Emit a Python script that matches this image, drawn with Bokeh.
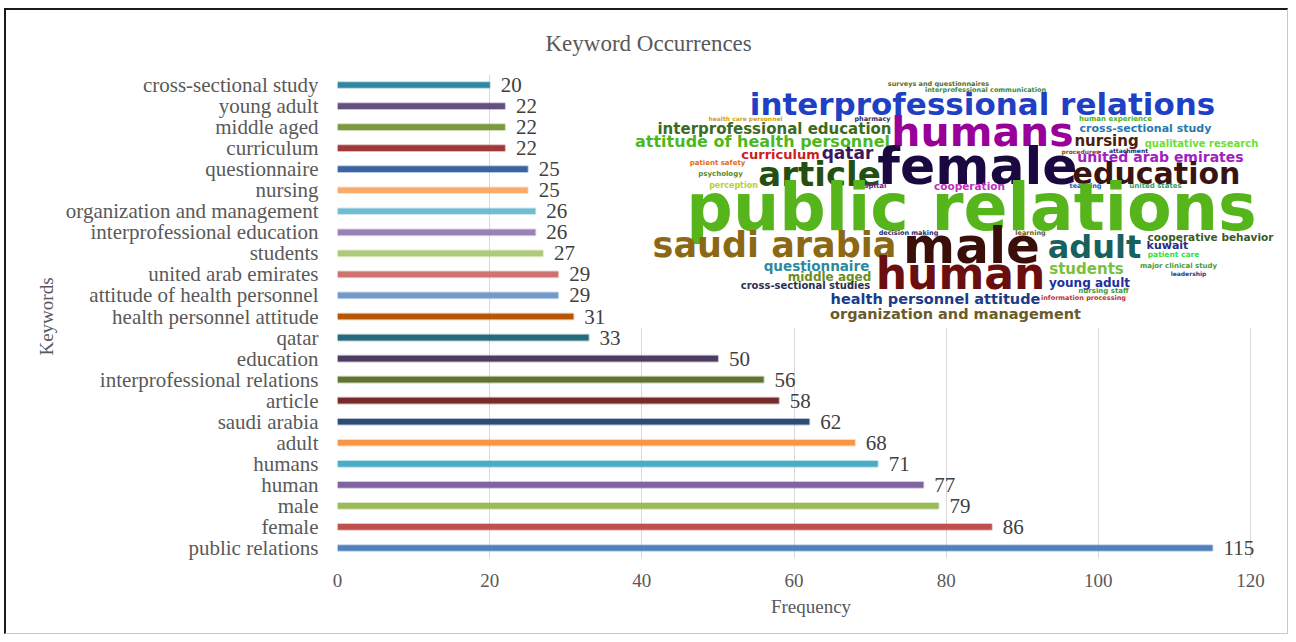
from bokeh.plotting import figure
from bokeh.models import FactorRange, Range1d, FixedTicker, ColumnDataSource
from bokeh.core.properties import value
from bokeh.embed import file_html
from bokeh.resources import INLINE

# ---------------- data (bottom bar first) ----------------
keywords = [
    "public relations", "female", "male", "human", "humans", "adult",
    "saudi arabia", "article", "interprofessional relations", "education",
    "qatar", "health personnel attitude", "attitude of health personnel",
    "united arab emirates", "students", "interprofessional education",
    "organization and management", "nursing", "questionnaire", "curriculum",
    "middle aged", "young adult", "cross-sectional study",
]
frequency = [115, 86, 79, 77, 71, 68, 62, 58, 56, 50, 33, 31, 29, 29, 27, 26, 26,
             25, 25, 22, 22, 22, 20]
bar_colors = [
    "#4F81BD", "#C0504D", "#9BBB59", "#8064A2", "#4BACC6", "#F79646",
    "#2C4D75", "#772C2A", "#5F7530", "#4D3B62", "#276A7C", "#B65708",
    "#729ACA", "#CD7371", "#AFC97A", "#9983B5", "#6FBDD1", "#F9AB6B",
    "#3B64A0", "#A03A38", "#7A9A3D", "#634F80", "#2E87A0",
]
x_ticks = [0, 20, 40, 60, 80, 100, 120]
title_text = "Keyword Occurrences"
x_label = "Frequency"
y_label = "Keywords"

# word-cloud inset (an image in the original): words and their colours
wc_words = [
    "surveys and questionnaires", "interprofessional communication",
    "interprofessional relations", "health care personnel", "pharmacy",
    "human experience", "humans", "interprofessional education",
    "cross-sectional study", "attitude of health personnel", "nursing",
    "qualitative research", "curriculum", "qatar", "united arab emirates",
    "procedures", "attachment", "patient safety", "female", "article",
    "education", "psychology", "perception", "hospital", "cooperation",
    "teaching", "united states", "public relations", "decision making",
    "learning", "cooperative behavior", "saudi arabia", "male", "adult",
    "kuwait", "patient care", "major clinical study", "questionnaire",
    "human", "students", "leadership", "middle aged", "young adult",
    "cross-sectional studies", "nursing staff", "health personnel attitude",
    "information processing", "organization and management",
]
wc_colors = [
    "#5A6B2A", "#3A8A3A", "#1F3FC4", "#D4A020", "#2A2A6A",
    "#4CB020", "#990099", "#3B6B22", "#2878B0", "#4DB81E", "#4A2010",
    "#6CE030", "#CC2020", "#3A1860", "#A020C0",
    "#8A4A20", "#2A2A6A", "#E06A20", "#1A0840", "#234F12",
    "#3A1410", "#5A8A2A", "#B8D030", "#6A2A8A", "#C030C0",
    "#2A50C0", "#3A9A6A", "#55B51A", "#2A2A6A",
    "#6A5A2A", "#3A5A2A", "#8B6914", "#3A0F0A", "#17615E",
    "#2A2A8A", "#30E040", "#4A9A3A", "#2A8AA0",
    "#6B0E0E", "#7AC040", "#2A3A8A", "#6B8E23", "#2030A0",
    "#2A3050", "#3A9A3A", "#1A3A8A",
    "#C03030", "#6B5A2A",
]
# layout of the inset: (page x centre, page y centre, font px) per word
wc_layout = [
    (938, 83, 6.5), (985, 89, 6.5),
    (982, 103, 31), (745, 118, 6), (872, 118, 6.5),
    (1115, 118, 7), (982, 131, 41), (774, 128, 15),
    (1145, 128, 11), (762, 141, 16), (1106, 140, 15),
    (1201, 143, 10), (780, 154, 13), (847, 153, 17), (1160, 156, 14),
    (1080, 151, 6), (1128, 150, 6), (717, 162, 7), (977, 165, 52), (819, 173, 34),
    (1156, 173, 30), (720, 174, 7), (733, 185, 8), (870, 185, 7), (969, 185, 10.5),
    (1085, 185, 6.5), (1155, 185, 7), (971, 207, 65), (908, 232, 6.5),
    (1030, 232, 6.5), (1210, 236, 10.5), (774, 244, 35), (971, 245, 50), (1094, 246, 32),
    (1167, 245, 11), (1173, 254, 7.5), (1178, 265, 7), (816, 265, 13.5),
    (960, 273, 44), (1086, 268, 15), (1188, 273, 6), (829, 276, 12), (1089, 282, 12),
    (805, 285, 10), (1103, 290, 7), (935, 298, 14.5),
    (1083, 297, 6.5), (955, 313, 14.5),
]

# ---------------- geometry (page px) ----------------
ORIGIN_X, ORIGIN_Y = 6, 10          # figure canvas origin on the page
CONTENT_W, CONTENT_H = 1284, 626
X0_PX, X120_PX = 337.0, 1250.0       # page x of value 0 and of the last tick
FRAME_T, FRAME_B = 74.0, 558.0
PX_PER_UNIT = (X120_PX - X0_PX) / (x_ticks[-1] - x_ticks[0])
FRAME_R = 1284.0
n_cat = len(keywords)


def px_to_x(px):
    return (px - X0_PX) / PX_PER_UNIT


def py_to_y(py):
    return (FRAME_B - py) / ((FRAME_B - FRAME_T) / n_cat)


SERIF = "Liberation Serif"
GREY = "#595959"

p = figure(
    width=CONTENT_W, height=CONTENT_H,
    y_range=FactorRange(factors=keywords),
    x_range=Range1d(x_ticks[0], px_to_x(FRAME_R)),
    output_backend="svg", toolbar_location=None,
    min_border_left=int(X0_PX - ORIGIN_X),
    min_border_right=int(ORIGIN_X + CONTENT_W - FRAME_R),
    min_border_top=int(FRAME_T - ORIGIN_Y),
    min_border_bottom=int(ORIGIN_Y + CONTENT_H - FRAME_B),
    styles={
        "margin-left": "4px", "margin-top": "8px",
        "border-top": "2px solid #1a1a1a", "border-left": "2px solid #1a1a1a",
        "border-right": "1px solid #c8c8c8", "border-bottom": "1px solid #c8c8c8",
    },
)
p.outline_line_color = None
p.background_fill_color = "white"
p.border_fill_color = "white"

# title, centred over the whole chart (left-aligned with an offset from the frame)
p.title.text = title_text
p.title.align = "left"
p.title.vertical_align = "top"
p.title.offset = 208
p.title.standoff = 34
p.title.text_font = SERIF
p.title.text_font_size = "23px"
p.title.text_font_style = "normal"
p.title.text_color = GREY

# bars
src = ColumnDataSource(dict(k=keywords, v=frequency, c=bar_colors,
                            t=[str(v) for v in frequency]))
p.hbar(y="k", right="v", left=0, height=0.27, fill_color="c", line_color="c",
       line_alpha=0.35, line_width=2, source=src)
p.text(x="v", y="k", text="t", source=src, x_offset=11, text_baseline="middle",
       text_font=value(SERIF), text_font_size="21px", text_color="#404040")

# word-cloud inset: white panel then words
p.quad(left=px_to_x(627), right=px_to_x(1290), bottom=py_to_y(327), top=py_to_y(66),
       fill_color="white", line_color=None)
wc_src = ColumnDataSource(dict(
    x=[px_to_x(l[0]) for l in wc_layout],
    y=[py_to_y(l[1]) for l in wc_layout],
    s=["%gpx" % l[2] for l in wc_layout],
    w=wc_words, c=wc_colors,
))
p.text(x="x", y="y", text="w", source=wc_src, text_font_size="s", text_color="c",
       text_font=value("DejaVu Sans"), text_font_style="bold",
       text_align="center", text_baseline="middle")

# axes
p.xaxis.ticker = FixedTicker(ticks=x_ticks)
p.xaxis.axis_line_color = None
p.xaxis.major_tick_line_color = None
p.xaxis.minor_tick_line_color = None
p.xaxis.major_label_standoff = 9
p.xaxis.major_label_text_font = SERIF
p.xaxis.major_label_text_font_size = "19px"
p.xaxis.major_label_text_color = GREY
p.xaxis.axis_label = x_label
p.xaxis.axis_label_standoff = 6
p.xaxis.axis_label_text_font = SERIF
p.xaxis.axis_label_text_font_size = "19px"
p.xaxis.axis_label_text_font_style = "normal"
p.xaxis.axis_label_text_color = GREY

p.yaxis.axis_line_color = None
p.yaxis.major_tick_line_color = None
p.yaxis.minor_tick_line_color = None
p.yaxis.major_label_standoff = 13
p.yaxis.major_label_text_font = SERIF
p.yaxis.major_label_text_font_size = "21px"
p.yaxis.major_label_text_color = GREY
p.yaxis.axis_label = y_label
p.yaxis.axis_label_standoff = 6
p.yaxis.axis_label_text_font = SERIF
p.yaxis.axis_label_text_font_size = "19px"
p.yaxis.axis_label_text_font_style = "normal"
p.yaxis.axis_label_text_color = GREY

p.xgrid.grid_line_color = "#d9d9d9"
p.xgrid.grid_line_width = 1
p.ygrid.grid_line_color = None

open("out.html", "w").write(file_html(p, INLINE))
